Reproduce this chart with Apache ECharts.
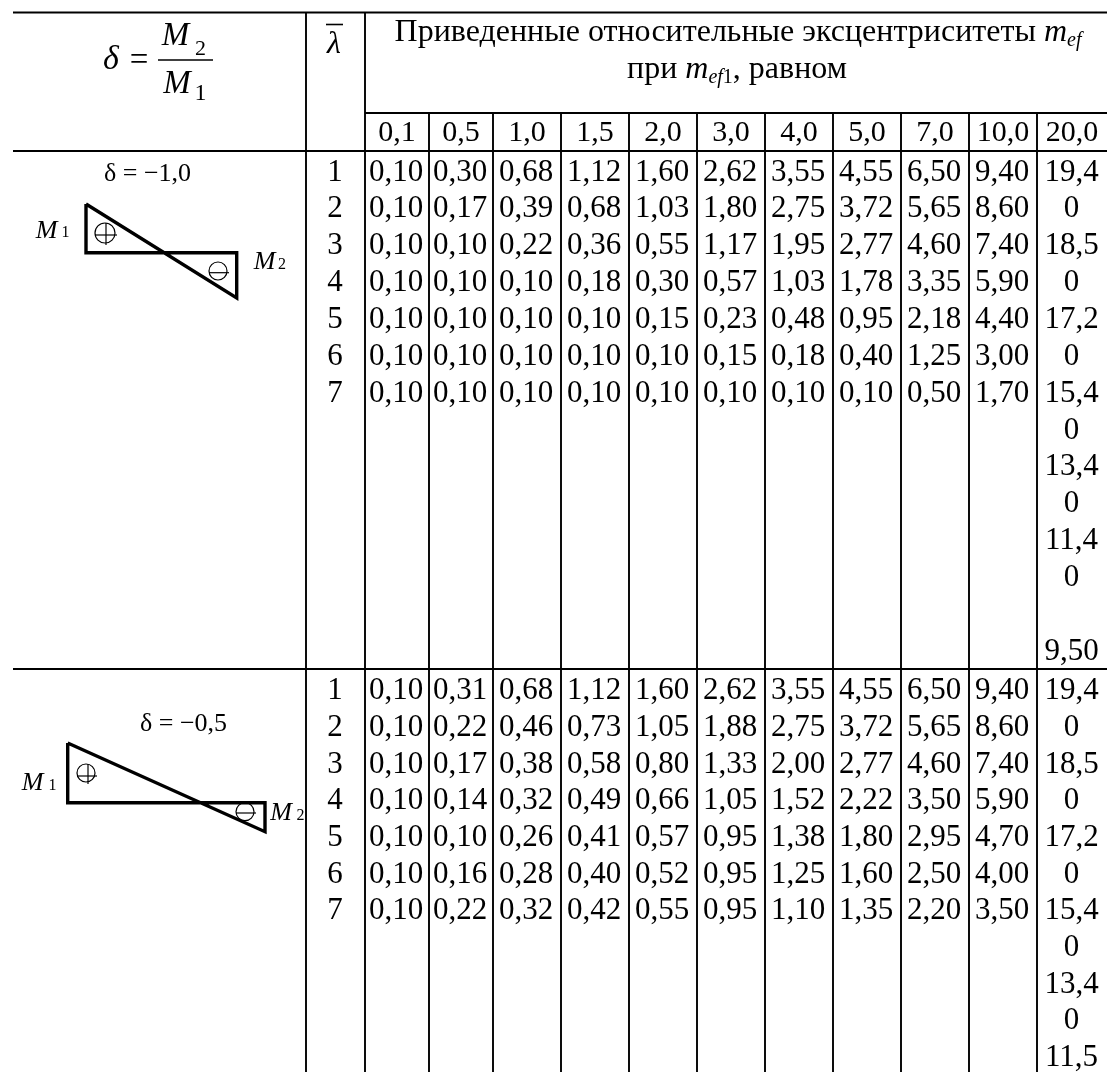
<!DOCTYPE html>
<html><head><meta charset="utf-8">
<style>html,body{margin:0;padding:0;background:#fff}#c{width:1108px;height:1072px}</style>
<script src="https://cdn.jsdelivr.net/npm/echarts@6/dist/echarts.min.js"></script>
</head><body><div id="c"></div>
<script>
var eccentricityHeads = ['0,1','0,5','1,0','1,5','2,0','3,0','4,0','5,0','7,0','10,0','20,0'];
var lambdaRows = ['1','2','3','4','5','6','7'];
var blockA = [
 ['0,10','0,30','0,68','1,12','1,60','2,62','3,55','4,55','6,50','9,40','19,4'],
 ['0,10','0,17','0,39','0,68','1,03','1,80','2,75','3,72','5,65','8,60','0'],
 ['0,10','0,10','0,22','0,36','0,55','1,17','1,95','2,77','4,60','7,40','18,5'],
 ['0,10','0,10','0,10','0,18','0,30','0,57','1,03','1,78','3,35','5,90','0'],
 ['0,10','0,10','0,10','0,10','0,15','0,23','0,48','0,95','2,18','4,40','17,2'],
 ['0,10','0,10','0,10','0,10','0,10','0,15','0,18','0,40','1,25','3,00','0'],
 ['0,10','0,10','0,10','0,10','0,10','0,10','0,10','0,10','0,50','1,70','15,4']
];
var blockATail = ['0','13,4','0','11,4','0','','9,50'];
var blockB = [
 ['0,10','0,31','0,68','1,12','1,60','2,62','3,55','4,55','6,50','9,40','19,4'],
 ['0,10','0,22','0,46','0,73','1,05','1,88','2,75','3,72','5,65','8,60','0'],
 ['0,10','0,17','0,38','0,58','0,80','1,33','2,00','2,77','4,60','7,40','18,5'],
 ['0,10','0,14','0,32','0,49','0,66','1,05','1,52','2,22','3,50','5,90','0'],
 ['0,10','0,10','0,26','0,41','0,57','0,95','1,38','1,80','2,95','4,70','17,2'],
 ['0,10','0,16','0,28','0,40','0,52','0,95','1,25','1,60','2,50','4,00','0'],
 ['0,10','0,22','0,32','0,42','0,55','0,95','1,10','1,35','2,20','3,50','15,4']
];
var blockBTail = ['0','13,4','0','11,5'];

var SERIF = '"Liberation Serif","Times New Roman",serif';
var FS = 31, PITCH = 36.85;
var edges = [365,429,493,561,629,697,765,833,901,969,1037,1107];
var lambdaX = 335, rowA = 172.5, rowB = 691, headY = 133, TAILX = 1071.5;
var LW = 1.9;

var rules = [
 [13,12.5,1107,12.5,LW],[13,151,1107,151,LW],[13,669,1107,669,LW],[365,113,1107,113,LW],
 [306,12,306,1072,LW],[365,12,365,1072,LW]
];
edges.slice(1,-1).forEach(function(x){ rules.push([x,113,x,1072,LW]); });

var glyphs = [];
function T(x,y,text,o){ o=o||{}; glyphs.push({x:x,y:y,text:text,size:o.s||FS,italic:!!o.i,align:o.a||'center'}); }
eccentricityHeads.forEach(function(h,i){ T((edges[i]+edges[i+1])/2,headY,h,{s:30}); });
function fill(rows,y0,p){ rows.forEach(function(r,ri){ T(lambdaX,y0+ri*p,lambdaRows[ri]);
  r.forEach(function(v,ci){ T(ci===10?TAILX:(edges[ci]+edges[ci+1])/2-1,y0+ri*p,v); }); }); }
fill(blockA,rowA,PITCH); fill(blockB,rowB,36.7);
blockATail.forEach(function(v,i){ if(v) T(TAILX,rowA+(7+i)*PITCH,v); });
blockBTail.forEach(function(v,i){ T(TAILX,rowB+(7+i)*36.7,v); });

// formula
T(111,60,'δ',{i:1,s:34}); T(139,61,'=',{s:33});
T(175.5,36,'M',{i:1,s:33}); T(200.5,49,'2',{s:22});
T(177,84,'M',{i:1,s:33}); T(200.5,94,'1',{s:24});
T(334,45,'λ',{i:1,s:32});
T(147.5,174,'δ = −1,0',{s:26}); T(183.5,724,'δ = −0,5',{s:26});
T(46.5,231,'M',{i:1,s:26}); T(65.5,233,'1',{s:16});
T(264.5,262,'M',{i:1,s:26}); T(282,265,'2',{s:16});
T(32.5,783,'M',{i:1,s:26}); T(52.5,786,'1',{s:16});
T(281,813,'M',{i:1,s:26}); T(300.5,816,'2',{s:16});

var extra = [
 [158,60,213,60,1.6],[326,24.5,343,24.5,1.6]
];
var polys = [
 [[86,204],[86,252.7],[236.7,252.7],[236.7,298],[86,204]],
 [[67.7,743],[67.7,802.7],[265,802.7],[265,831.7],[67.7,743]]
];
// cx, cy, r, plus?, bar y, stem x
var circles = [[105,233,10,1,235,106],[218,271,9,0,272.7,218],[86,773,9,1,776,88],[245,811.7,9,0,813,245]];

var ruleData = rules.concat(extra);
var option = {
 animation:false,
 backgroundColor:'#fff',
 tooltip:{show:false},
 grid:{left:0,right:0,top:0,bottom:0},
 xAxis:{type:'value',min:0,max:1108,show:false},
 yAxis:{type:'value',min:0,max:1072,inverse:true,show:false},
 series:[
  {type:'custom',coordinateSystem:'cartesian2d',silent:true,clip:false,
   data:ruleData.map(function(r,i){return [r[0],r[1],i];}),
   encode:{x:0,y:1},
   renderItem:function(p,api){ var r=ruleData[p.dataIndex]; var a=api.coord([r[0],r[1]]),b=api.coord([r[2],r[3]]);
     return {type:'line',shape:{x1:a[0],y1:a[1],x2:b[0],y2:b[1]},style:{stroke:'#000',lineWidth:r[4]}}; }},
  {type:'custom',coordinateSystem:'cartesian2d',silent:true,clip:false,
   data:polys.map(function(r,i){return [r[0][0],r[0][1],i];}),
   encode:{x:0,y:1},
   renderItem:function(p,api){ var pts=polys[p.dataIndex].map(function(q){return api.coord(q);});
     return {type:'polyline',shape:{points:pts},style:{stroke:'#000',fill:null,lineWidth:3.4,lineJoin:'miter'}}; }},
  {type:'custom',coordinateSystem:'cartesian2d',silent:true,clip:false,
   data:circles.map(function(c,i){return [c[0],c[1],i];}),
   encode:{x:0,y:1},
   renderItem:function(p,api){ var c=circles[p.dataIndex]; var o=api.coord([c[0],c[1]]); var r=c[2];
     var by=api.coord([c[0],c[4]])[1], sx=api.coord([c[5],c[1]])[0];
     var kids=[{type:'circle',shape:{cx:o[0],cy:o[1],r:r},style:{stroke:'#000',fill:null,lineWidth:1.2}},
       {type:'line',shape:{x1:o[0]-r,y1:by,x2:o[0]+r+2,y2:by},style:{stroke:'#000',lineWidth:1.2}}];
     if(c[3]) kids.push({type:'line',shape:{x1:sx,y1:o[1]-r,x2:sx,y2:o[1]+r+2},style:{stroke:'#000',lineWidth:1.2}});
     return {type:'group',children:kids}; }},
  {type:'custom',coordinateSystem:'cartesian2d',silent:true,clip:false,
   data:glyphs.map(function(g){return [g.x,g.y,g.text];}),
   encode:{x:0,y:1},
   renderItem:function(p,api){ var g=glyphs[p.dataIndex]; var o=api.coord([g.x,g.y]);
     return {type:'text',x:o[0],y:o[1],style:{text:g.text,fontFamily:SERIF,fontSize:g.size,fontStyle:g.italic?'italic':'normal',fill:'#000',align:g.align,verticalAlign:'middle'}}; }},
  {type:'custom',coordinateSystem:'cartesian2d',silent:true,clip:false,
   data:[[738,33,0],[737,70,1]],
   encode:{x:0,y:1},
   renderItem:function(p,api){ var o=api.coord([api.value(0),api.value(1)]);
     var txt=p.dataIndex===0?'{t|Приведенные относительные эксцентриситеты }{i|m}{s|ef}':'{t|при }{i|m}{s|ef}{u|1}{t|, равном}';
     return {type:'text',x:o[0],y:o[1],style:{text:txt,align:'center',verticalAlign:'middle',fill:'#000',rich:{
       t:{fontFamily:SERIF,fontSize:32,lineHeight:36,fill:'#000'},
       i:{fontFamily:SERIF,fontSize:32,lineHeight:36,fontStyle:'italic',fill:'#000'},
       s:{fontFamily:SERIF,fontSize:20,lineHeight:36,fontStyle:'italic',fill:'#000',verticalAlign:'bottom'},
       u:{fontFamily:SERIF,fontSize:20,lineHeight:36,fill:'#000',verticalAlign:'bottom'}
     }}}; }}
 ]
};
echarts.init(document.getElementById('c'),null,{renderer:'canvas'}).setOption(option);
</script></body></html>
